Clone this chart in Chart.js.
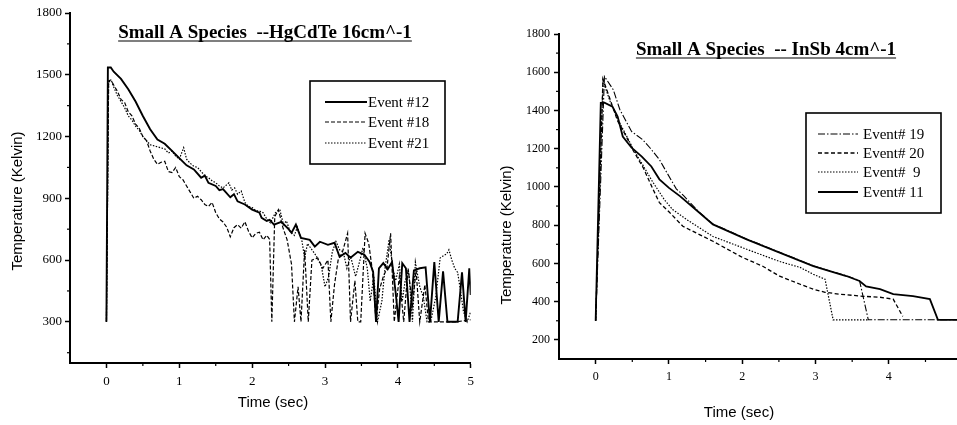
<!DOCTYPE html>
<html>
<head>
<meta charset="utf-8">
<script src="https://cdn.jsdelivr.net/npm/chart.js@4.4.1/dist/chart.umd.min.js"></script>
<style>
  html, body { margin: 0; padding: 0; background: #fff; }
  #wrap { position: relative; width: 957px; height: 425px; overflow: hidden; background: #fff; }
  #c1 { position: absolute; left: 0; top: 0; }
  #c2 { position: absolute; left: 480px; top: 0; }
</style>
</head>
<body>
<div id="wrap">
  <canvas id="c1" width="480" height="425"></canvas>
  <canvas id="c2" width="477" height="425"></canvas>
</div>
<script>
// ---------------- LEFT CHART DATA (HgCdTe 16cm^-1) ----------------
const leftTitle = "Small A Species  --HgCdTe 16cm^-1";
const leftXTicks = [0, 1, 2, 3, 4, 5];
const leftYTicks = [300, 600, 900, 1200, 1500, 1800];

const e12Label = "Event #12";
const e12Time = [0, 0.02, 0.06, 0.1, 0.2, 0.3, 0.4, 0.5, 0.6, 0.7, 0.8, 0.9, 1.0, 1.1, 1.2, 1.3, 1.35, 1.4, 1.5, 1.55, 1.6, 1.7, 1.75, 1.8, 1.9, 2.0, 2.1, 2.13, 2.2, 2.24, 2.3, 2.4, 2.5, 2.54, 2.6, 2.67, 2.79, 2.86, 2.93, 3.04, 3.13, 3.2, 3.28, 3.35, 3.45, 3.54, 3.61, 3.66, 3.7, 3.74, 3.8, 3.86, 3.92, 3.97, 4.01, 4.06, 4.11, 4.16, 4.22, 4.3, 4.38, 4.44, 4.5, 4.56, 4.62, 4.68, 4.75, 4.82, 4.88, 4.93, 4.98, 5.0];
const e12Temp = [300, 1535, 1535, 1515, 1480, 1430, 1370, 1300, 1235, 1185, 1165, 1130, 1095, 1060, 1040, 1000, 1010, 975, 960, 940, 945, 905, 920, 885, 870, 845, 830, 805, 790, 795, 772, 786, 750, 732, 772, 708, 698, 665, 689, 674, 684, 616, 635, 611, 640, 626, 592, 543, 300, 560, 585, 555, 590, 440, 300, 585, 560, 300, 550, 560, 565, 300, 590, 300, 545, 300, 300, 300, 540, 300, 560, 430];

const e18Label = "Event #18";
const e18Time = [0, 0.03, 0.06, 0.1, 0.15, 0.2, 0.25, 0.3, 0.35, 0.4, 0.45, 0.5, 0.55, 0.6, 0.65, 0.7, 0.75, 0.8, 0.85, 0.9, 0.95, 1.0, 1.05, 1.1, 1.15, 1.2, 1.25, 1.3, 1.35, 1.4, 1.45, 1.5, 1.55, 1.6, 1.65, 1.7, 1.75, 1.8, 1.85, 1.9, 1.95, 2.0, 2.05, 2.1, 2.15, 2.2, 2.24, 2.27, 2.31, 2.36, 2.42, 2.48, 2.54, 2.58, 2.63, 2.67, 2.72, 2.77, 2.82, 2.9, 2.97, 3.04, 3.08, 3.13, 3.18, 3.24, 3.31, 3.35, 3.41, 3.45, 3.49, 3.55, 3.6, 3.65, 3.7, 3.75, 3.8, 3.85, 3.9, 3.95, 4.02, 4.08, 4.14, 4.2, 4.25, 4.3, 4.37, 4.42, 4.6, 4.8, 5.0];
const e18Temp = [300, 1470, 1475, 1450, 1420, 1380, 1365, 1320, 1300, 1260, 1240, 1200, 1180, 1130, 1090, 1065, 1075, 1080, 1030, 1025, 1050, 1005, 990, 960, 930, 900, 910, 893, 870, 860, 880, 830, 800, 785, 760, 713, 757, 772, 755, 786, 740, 708, 730, 735, 698, 720, 700, 300, 810, 845, 760, 698, 580, 300, 470, 300, 650, 300, 600, 610, 560, 600, 300, 480, 600, 640, 730, 300, 500, 300, 300, 730, 680, 550, 300, 460, 520, 560, 730, 300, 520, 300, 560, 380, 550, 300, 480, 300, 300, 300, 310];

const e21Label = "Event #21";
const e21Time = [0, 0.03, 0.07, 0.1, 0.15, 0.2, 0.25, 0.3, 0.35, 0.4, 0.45, 0.5, 0.55, 0.6, 0.7, 0.8, 0.85, 0.9, 0.95, 1.0, 1.06, 1.1, 1.15, 1.2, 1.25, 1.3, 1.35, 1.4, 1.45, 1.5, 1.55, 1.6, 1.68, 1.72, 1.76, 1.8, 1.85, 1.9, 1.95, 2.0, 2.05, 2.1, 2.15, 2.2, 2.25, 2.32, 2.38, 2.43, 2.47, 2.52, 2.58, 2.62, 2.68, 2.72, 2.76, 2.82, 2.88, 2.95, 3.0, 3.05, 3.1, 3.15, 3.2, 3.25, 3.3, 3.35, 3.42, 3.48, 3.52, 3.58, 3.62, 3.67, 3.72, 3.78, 3.82, 3.88, 3.93, 3.97, 4.02, 4.06, 4.1, 4.15, 4.2, 4.24, 4.3, 4.35, 4.4, 4.45, 4.52, 4.58, 4.62, 4.67, 4.7, 4.74, 4.78, 4.82, 4.86, 4.9, 4.95, 5.0];
const e21Temp = [300, 1465, 1470, 1440, 1400, 1370, 1340, 1300, 1280, 1250, 1230, 1200, 1180, 1160, 1150, 1140, 1120, 1130, 1105, 1090, 1146, 1090, 1070, 1055, 1050, 1030, 1010, 1000, 985, 975, 960, 950, 975, 940, 950, 920, 935, 880, 860, 855, 840, 838, 830, 800, 781, 830, 845, 772, 790, 740, 720, 760, 700, 610, 680, 650, 620, 570, 470, 520, 640, 690, 650, 640, 560, 620, 520, 600, 660, 560, 400, 520, 300, 400, 550, 700, 560, 500, 580, 400, 500, 540, 300, 590, 470, 420, 300, 300, 420, 610, 620, 630, 650, 600, 560, 540, 450, 350, 300, 350];

// ---------------- RIGHT CHART DATA (InSb 4cm^-1) ----------------
const rightTitle = "Small A Species  -- InSb 4cm^-1";
const rightXTicks = [0, 1, 2, 3, 4];
const rightYTicks = [200, 400, 600, 800, 1000, 1200, 1400, 1600, 1800];

const e19Label = "Event# 19";
const e19Time = [0, 0.12, 0.24, 0.33, 0.49, 0.64, 0.74, 0.87, 0.97, 1.1, 1.2, 1.4, 1.6, 2.06, 2.51, 2.97, 3.2, 3.42, 3.6, 3.72, 4.93];
const e19Temp = [300, 1578, 1509, 1405, 1290, 1248, 1205, 1143, 1076, 990, 955, 872, 806, 728, 658, 588, 560, 536, 510, 305, 305];

const e20Label = "Event# 20";
const e20Time = [0, 0.1, 0.2, 0.3, 0.42, 0.51, 0.65, 0.78, 0.87, 1.01, 1.19, 1.6, 2.0, 2.28, 2.51, 2.79, 2.97, 3.13, 3.33, 3.65, 3.88, 4.06, 4.19];
const e20Temp = [300, 1565, 1455, 1345, 1262, 1192, 1100, 990, 918, 866, 794, 716, 632, 585, 533, 491, 465, 449, 439, 428, 423, 413, 323];

const e9Label = "Event#  9";
const e9Time = [0, 0.1, 0.2, 0.3, 0.42, 0.51, 0.65, 0.78, 0.94, 1.05, 1.24, 1.6, 2.06, 2.51, 2.79, 2.97, 3.13, 3.24, 3.72];
const e9Temp = [300, 1555, 1445, 1355, 1268, 1200, 1110, 1025, 932, 882, 830, 741, 674, 610, 579, 543, 517, 305, 305];

const e11Label = "Event# 11";
const e11Time = [0, 0.07, 0.12, 0.23, 0.3, 0.37, 0.49, 0.63, 0.76, 0.87, 1.0, 1.15, 1.4, 1.6, 2.06, 2.51, 2.97, 3.42, 3.6, 3.69, 3.88, 4.06, 4.33, 4.56, 4.67, 4.93];
const e11Temp = [300, 1440, 1441, 1420, 1368, 1264, 1205, 1159, 1107, 1040, 995, 952, 870, 804, 726, 656, 586, 534, 508, 480, 465, 439, 429, 413, 305, 305];

// ---------------- helpers ----------------
function pts(ts, vs) { return ts.map((t, i) => ({ x: t, y: vs[i] })); }
function ds(label, ts, vs, width, dash) {
  return { label: label, data: pts(ts, vs), borderColor: '#000', borderWidth: width,
           borderDash: dash, pointRadius: 0, showLine: true, fill: false, tension: 0 };
}

const serif = "'Liberation Serif', 'Times New Roman', serif";
const sans = "'Liberation Sans', Arial, sans-serif";

const overlayPlugin = {
  id: 'overlay',
  afterDraw(chart, args, o) {
    const ctx = chart.ctx;
    ctx.save();
    ctx.fillStyle = '#000';
    ctx.strokeStyle = '#000';
    // title (bold serif, underlined)
    ctx.font = 'bold ' + o.titleSize + 'px ' + serif;
    ctx.textAlign = 'center';
    ctx.textBaseline = 'alphabetic';
    ctx.fillText(o.title, o.titleX, o.titleY);
    const w = ctx.measureText(o.title).width;
    ctx.lineWidth = 1.2;
    ctx.beginPath();
    ctx.moveTo(o.titleX - w / 2, o.titleY + 3);
    ctx.lineTo(o.titleX + w / 2, o.titleY + 3);
    ctx.stroke();
    // axis titles
    ctx.font = '15px ' + sans;
    ctx.textBaseline = 'middle';
    ctx.fillText('Time (sec)', o.xTitleX, o.xTitleY);
    ctx.save();
    ctx.translate(o.yTitleX, o.yTitleY);
    ctx.rotate(-Math.PI / 2);
    ctx.fillText('Temperature (Kelvin)', 0, 0);
    ctx.restore();
    // legend box
    const b = o.legendBox;
    ctx.lineWidth = 1.6;
    ctx.setLineDash([]);
    ctx.strokeRect(b[0], b[1], b[2] - b[0], b[3] - b[1]);
    ctx.font = '15px ' + serif;
    ctx.textAlign = 'left';
    chart.data.datasets.forEach((d, i) => {
      const y = o.legendRows[i];
      ctx.lineWidth = d.borderWidth;
      ctx.setLineDash(d.borderDash || []);
      ctx.beginPath();
      ctx.moveTo(o.sampleX0, y);
      ctx.lineTo(o.sampleX1, y);
      ctx.stroke();
      ctx.setLineDash([]);
      ctx.fillText(d.label, o.textX, y + 1);
    });
    // minor ticks
    ctx.lineWidth = 1.2;
    ctx.setLineDash([]);
    const xs = chart.scales.x, ys = chart.scales.y;
    o.xMinor.forEach(v => {
      const px = xs.getPixelForValue(v);
      ctx.beginPath(); ctx.moveTo(px, xs.top); ctx.lineTo(px, xs.top + 3); ctx.stroke();
    });
    o.yMinor.forEach(v => {
      const py = ys.getPixelForValue(v);
      ctx.beginPath(); ctx.moveTo(ys.right, py); ctx.lineTo(ys.right - 3, py); ctx.stroke();
    });
    ctx.restore();
  }
};

function axisCfg(min, max, tickList, fontSize, pad, fitProp, fitVal) {
  return {
    type: 'linear', min: min, max: max,
    afterBuildTicks: s => { s.ticks = tickList.map(v => ({ value: v })); },
    afterFit: s => { s[fitProp] = fitVal; },
    ticks: { color: '#000', font: { family: serif, size: fontSize }, padding: pad,
             autoSkip: false, maxRotation: 0, includeBounds: false,
             callback: v => String(v) },
    grid: { display: true, drawOnChartArea: false, drawTicks: true, tickLength: 5,
            tickColor: '#000', tickWidth: 1.5 },
    border: { display: true, color: '#000', width: 2 }
  };
}

// ---------------- LEFT CHART ----------------
new Chart(document.getElementById('c1'), {
  type: 'scatter',
  data: { datasets: [
    ds(e12Label, e12Time, e12Temp, 1.9, []),
    ds(e18Label, e18Time, e18Temp, 1.2, [4, 2]),
    ds(e21Label, e21Time, e21Temp, 1.2, [1.5, 1.5])
  ]},
  options: {
    responsive: false, animation: false, devicePixelRatio: 1,
    layout: { padding: { left: 0, right: 7, top: 13, bottom: 0 } },
    scales: {
      x: axisCfg(-0.5, 5, leftXTicks, 13, 6, 'height', 62),
      y: axisCfg(100, 1800, leftYTicks, 13, 3, 'width', 70)
    },
    plugins: {
      legend: { display: false }, tooltip: { enabled: false },
      overlay: {
        title: leftTitle, titleSize: 19, titleX: 265, titleY: 38,
        xTitleX: 273, xTitleY: 403, yTitleX: 18, yTitleY: 201,
        legendBox: [310, 81, 445, 164], legendRows: [102, 122, 143],
        sampleX0: 325, sampleX1: 367, textX: 368,
        xMinor: [0.5, 1.5, 2.5, 3.5, 4.5], yMinor: [150, 450, 750, 1050, 1350, 1650]
      }
    }
  },
  plugins: [overlayPlugin]
});

// ---------------- RIGHT CHART ----------------
new Chart(document.getElementById('c2'), {
  type: 'scatter',
  data: { datasets: [
    ds(e19Label, e19Time, e19Temp, 1.1, [7, 2, 1.5, 2]),
    ds(e20Label, e20Time, e20Temp, 1.3, [4, 2.5]),
    ds(e9Label, e9Time, e9Temp, 1.2, [1.5, 1.5]),
    ds(e11Label, e11Time, e11Temp, 1.8, [])
  ]},
  options: {
    responsive: false, animation: false, devicePixelRatio: 1,
    layout: { padding: { left: 0, right: 0, top: 34, bottom: 0 } },
    scales: {
      x: axisCfg(-0.5, 4.93, rightXTicks, 12, 6, 'height', 66),
      y: axisCfg(100, 1800, rightYTicks, 12, 4, 'width', 79)
    },
    plugins: {
      legend: { display: false }, tooltip: { enabled: false },
      overlay: {
        title: rightTitle, titleSize: 19, titleX: 286, titleY: 55,
        xTitleX: 259, xTitleY: 413, yTitleX: 27, yTitleY: 235,
        legendBox: [326, 113, 461, 213], legendRows: [134, 153, 172, 192],
        sampleX0: 338, sampleX1: 378, textX: 383,
        xMinor: [0.5, 1.5, 2.5, 3.5, 4.5], yMinor: [300, 500, 700, 900, 1100, 1300, 1500, 1700]
      }
    }
  },
  plugins: [overlayPlugin]
});
</script>
</body>
</html>
